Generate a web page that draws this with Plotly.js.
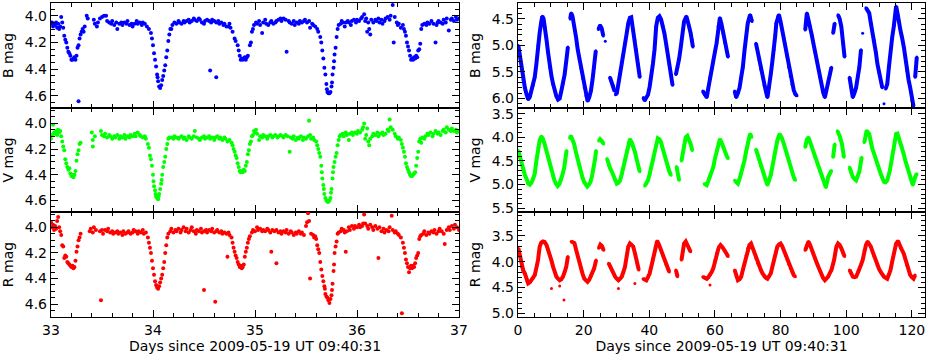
<!DOCTYPE html>
<html>
<head>
<meta charset="utf-8">
<script src="https://cdn.plot.ly/plotly-3.0.1.min.js"></script>
<style>
  html, body { margin: 0; padding: 0; background: #fff; }
  #plot { width: 934px; height: 361px; }
</style>
</head>
<body>
<div id="plot"></div>
<script>
// Left column: eclipse window, days 33-37 (x, mag)
const leftB = [
  [33.00,4.06],[33.01,4.05],[33.02,4.08],[33.03,4.06],[33.04,4.07],[33.05,4.05],[33.06,4.09],[33.07,4.06],[33.08,4.10],[33.09,4.08],[33.10,4.01],[33.11,4.05],[33.12,4.09],
  [33.13,4.15],[33.14,4.18],[33.15,4.20],[33.16,4.24],[33.17,4.27],[33.18,4.28],[33.19,4.30],[33.20,4.33],[33.21,4.33],[33.22,4.32],[33.23,4.31],[33.24,4.33],[33.25,4.30],[33.26,4.24],[33.27,4.64],[33.27,4.22],[33.28,4.17],[33.29,4.14],[33.30,4.12],[33.31,4.10],[33.32,4.12],[33.33,4.08],[33.35,4.00],[33.36,4.02],
  [33.42,4.03],[33.43,4.06],[33.45,4.08],[33.46,4.05],[33.48,4.02],[33.50,4.01],[33.52,4.00],[33.54,4.00],[33.55,4.04],[33.57,4.05],[33.59,4.06],[33.60,4.04],[33.62,4.07],[33.64,4.05],[33.65,4.10],[33.67,4.06],[33.69,4.05],[33.70,4.07],[33.72,4.05],[33.74,4.06],[33.75,4.04],[33.77,4.07],[33.79,4.06],[33.80,4.08],[33.82,4.06],[33.84,4.04],[33.85,4.06],[33.87,4.05],[33.89,4.07],[33.90,4.05],[33.92,4.06],[33.94,4.08],[33.96,4.10],
  [33.98,4.13],[33.99,4.17],[34.00,4.22],[34.01,4.28],[34.02,4.33],[34.03,4.38],[34.04,4.44],[34.045,4.46],[34.05,4.49],[34.06,4.53],[34.07,4.54],[34.08,4.52],[34.09,4.48],[34.10,4.45],[34.11,4.41],[34.12,4.37],[34.13,4.31],[34.14,4.26],[34.15,4.19],[34.16,4.14],[34.17,4.10],[34.18,4.10],[34.19,4.07],
  [34.21,4.05],[34.23,4.06],[34.25,4.04],[34.26,4.05],[34.28,4.06],[34.30,4.04],[34.31,4.05],[34.33,4.04],[34.35,4.03],[34.36,4.05],[34.38,4.04],[34.40,4.02],[34.41,4.03],[34.43,4.04],[34.45,4.02],[34.46,4.03],[34.48,4.05],[34.50,4.06],[34.51,4.04],[34.53,4.03],[34.55,4.04],[34.56,4.41],[34.57,4.05],[34.58,4.03],[34.60,4.04],[34.62,4.46],[34.62,4.05],[34.64,4.04],[34.65,4.06],[34.67,4.05],[34.69,4.07],[34.70,4.06],[34.72,4.08],[34.74,4.08],[34.75,4.06],[34.76,4.09],
  [34.78,4.12],[34.80,4.17],[34.81,4.19],[34.83,4.22],[34.84,4.26],[34.85,4.30],[34.86,4.33],[34.87,4.32],[34.88,4.33],[34.89,4.32],[34.90,4.31],[34.91,4.33],[34.92,4.31],[34.93,4.30],[34.95,4.22],[34.96,4.20],[34.97,4.12],[34.98,4.10],[34.99,4.07],
  [35.01,4.05],[35.02,4.06],[35.04,4.04],[35.05,4.07],[35.07,4.13],[35.08,4.05],[35.10,4.03],[35.11,4.06],[35.13,4.07],[35.15,4.05],[35.16,4.04],[35.18,4.06],[35.20,4.05],[35.21,4.04],[35.23,4.03],[35.25,4.02],[35.26,4.04],[35.28,4.02],[35.30,4.03],[35.31,4.27],[35.33,4.04],[35.34,4.05],[35.36,4.06],[35.38,4.04],[35.39,4.07],[35.41,4.05],[35.43,4.06],[35.44,4.04],[35.46,4.05],[35.48,4.04],[35.49,4.03],[35.51,4.05],[35.53,4.04],[35.54,4.09],[35.56,4.06],[35.57,4.07],[35.59,4.08],
  [35.61,4.10],[35.62,4.12],[35.64,4.16],[35.65,4.20],[35.66,4.26],[35.67,4.32],[35.68,4.39],[35.69,4.44],[35.70,4.51],[35.705,4.55],[35.71,4.57],[35.72,4.58],[35.73,4.58],[35.74,4.57],[35.75,4.53],[35.755,4.50],[35.76,4.44],[35.77,4.39],[35.775,4.34],[35.78,4.29],[35.79,4.24],[35.80,4.16],[35.81,4.10],[35.82,4.07],
  [35.84,4.06],[35.85,4.04],[35.86,4.05],[35.88,4.08],[35.89,4.05],[35.91,4.04],[35.92,4.05],[35.94,4.07],[35.95,4.04],[35.97,4.03],[35.99,4.05],[36.00,4.03],[36.02,4.04],[36.04,4.02],[36.05,4.01],[36.07,3.99],[36.08,4.04],[36.09,4.02],[36.10,4.12],[36.11,4.05],[36.12,4.10],[36.13,4.14],[36.14,4.03],[36.16,4.05],[36.18,4.03],[36.19,4.04],[36.21,4.02],[36.22,4.05],[36.24,4.03],[36.25,4.06],[36.27,4.04],[36.28,4.02],[36.30,4.01],[36.32,4.03],[36.33,4.00],[36.35,3.92],[36.36,4.20],[36.37,4.01],[36.39,4.05],[36.40,4.07],[36.41,4.06],[36.43,4.09],
  [36.45,4.07],[36.46,4.10],[36.47,4.12],[36.48,4.15],[36.49,4.20],[36.50,4.23],[36.51,4.26],[36.52,4.30],[36.53,4.33],[36.54,4.32],[36.55,4.33],[36.56,4.31],[36.57,4.32],[36.58,4.30],[36.59,4.31],[36.60,4.26],[36.61,4.25],[36.62,4.21],[36.63,4.10],[36.64,4.07],
  [36.66,4.06],[36.68,4.07],[36.69,4.05],[36.71,4.06],[36.73,4.04],[36.75,4.06],[36.77,4.20],[36.78,4.07],[36.79,4.05],[36.80,4.04],[36.82,4.05],[36.84,4.06],[36.85,4.03],[36.87,4.05],[36.88,4.02],[36.90,4.11],[36.92,4.03],[36.93,4.02],[36.95,4.04],[36.97,4.01],[36.98,4.03],[37.00,4.02]
];

const leftV = [
  [33.00,4.12],[33.01,4.09],[33.02,4.01],[33.03,4.07],[33.04,4.08],[33.05,4.06],[33.06,4.09],[33.07,4.05],[33.08,4.07],[33.09,4.06],[33.10,4.10],
  [33.11,4.14],[33.12,4.18],[33.13,4.21],[33.14,4.28],[33.15,4.31],[33.16,4.34],[33.17,4.36],[33.18,4.35],[33.19,4.39],[33.20,4.41],[33.21,4.40],[33.22,4.42],[33.23,4.40],[33.24,4.37],[33.25,4.29],[33.26,4.24],[33.27,4.21],[33.28,4.16],[33.29,4.15],
  [33.40,4.07],[33.41,4.13],[33.41,4.18],[33.43,4.10],
  [33.49,4.06],[33.50,4.09],[33.52,4.10],[33.53,4.08],[33.55,4.11],[33.57,4.09],[33.58,4.10],[33.60,4.12],[33.62,4.10],[33.63,4.11],[33.65,4.09],[33.67,4.12],[33.68,4.10],[33.70,4.11],[33.72,4.09],[33.73,4.12],[33.75,4.10],[33.77,4.11],[33.78,4.09],[33.80,4.10],[33.82,4.08],[33.83,4.10],[33.85,4.07],[33.87,4.09],[33.88,4.10],[33.90,4.11],[33.92,4.10],[33.93,4.12],
  [33.95,4.16],[33.96,4.19],[33.97,4.25],[33.98,4.28],[33.99,4.33],[34.00,4.40],[34.005,4.45],[34.01,4.49],[34.02,4.52],[34.025,4.55],[34.03,4.57],[34.04,4.58],[34.05,4.59],[34.055,4.57],[34.06,4.55],[34.07,4.51],[34.08,4.47],[34.085,4.44],[34.09,4.40],[34.10,4.34],[34.11,4.30],[34.12,4.26],[34.13,4.20],[34.14,4.16],[34.15,4.12],[34.16,4.11],
  [34.18,4.11],[34.20,4.12],[34.21,4.10],[34.23,4.11],[34.25,4.12],[34.26,4.11],[34.28,4.10],[34.30,4.12],[34.31,4.11],[34.33,4.13],[34.35,4.10],[34.36,4.11],[34.38,4.12],[34.40,4.10],[34.41,4.06],[34.43,4.11],[34.45,4.12],[34.46,4.13],[34.48,4.11],[34.50,4.10],[34.51,4.12],[34.53,4.11],[34.55,4.10],[34.56,4.12],[34.58,4.11],[34.60,4.13],[34.61,4.11],[34.63,4.10],[34.65,4.12],[34.66,4.11],[34.68,4.13],[34.70,4.11],[34.71,4.12],[34.73,4.14],[34.75,4.13],
  [34.77,4.15],[34.78,4.17],[34.79,4.20],[34.80,4.22],[34.81,4.25],[34.82,4.27],[34.83,4.31],[34.84,4.34],[34.85,4.37],[34.86,4.38],[34.87,4.37],[34.88,4.38],[34.89,4.36],[34.90,4.37],[34.91,4.33],[34.92,4.30],[34.93,4.24],[34.94,4.21],[34.95,4.16],[34.96,4.14],[34.97,4.10],[34.98,4.09],[34.99,4.06],
  [35.00,4.07],[35.01,4.05],[35.02,4.08],[35.04,4.13],[35.05,4.10],[35.07,4.11],[35.08,4.09],[35.10,4.10],[35.12,4.12],[35.13,4.10],[35.15,4.09],[35.17,4.11],[35.18,4.10],[35.20,4.09],[35.22,4.11],[35.23,4.10],[35.25,4.09],[35.27,4.10],[35.28,4.11],[35.30,4.09],[35.32,4.10],[35.34,4.22],[35.35,4.11],[35.37,4.12],[35.38,4.10],[35.40,4.13],[35.42,4.11],[35.43,4.12],[35.45,4.10],[35.47,4.13],[35.48,4.11],[35.50,4.12],[35.52,4.10],[35.53,3.98],[35.54,4.09],[35.55,4.12],[35.57,4.11],[35.58,4.13],[35.60,4.14],
  [35.61,4.17],[35.62,4.20],[35.63,4.23],[35.64,4.26],[35.65,4.33],[35.655,4.38],[35.66,4.43],[35.67,4.48],[35.675,4.51],[35.68,4.55],[35.69,4.58],[35.70,4.60],[35.71,4.61],[35.72,4.61],[35.73,4.60],[35.74,4.58],[35.745,4.54],[35.75,4.51],[35.76,4.43],[35.765,4.38],[35.77,4.34],[35.78,4.30],[35.79,4.26],[35.80,4.23],[35.81,4.17],[35.82,4.13],[35.83,4.10],
  [35.84,4.09],[35.86,4.08],[35.87,4.10],[35.89,4.07],[35.90,4.09],[35.92,4.13],[35.93,4.08],[35.95,4.07],[35.96,4.09],[35.98,4.07],[36.00,4.08],[36.01,4.06],[36.03,4.07],[36.05,4.05],[36.06,4.03],[36.07,4.00],[36.08,4.12],[36.09,4.09],[36.10,4.04],[36.11,4.14],[36.12,4.17],[36.13,4.12],[36.15,4.10],[36.16,4.08],[36.18,4.09],[36.20,4.07],[36.21,4.10],[36.23,4.08],[36.25,4.07],[36.26,4.09],[36.28,4.08],[36.30,4.05],[36.31,4.06],[36.32,3.97],[36.33,4.03],[36.35,4.05],[36.37,4.08],[36.38,4.10],[36.40,4.12],[36.41,4.11],
  [36.43,4.13],[36.44,4.16],[36.45,4.19],[36.46,4.22],[36.47,4.26],[36.48,4.31],[36.49,4.34],[36.50,4.36],[36.51,4.38],[36.52,4.40],[36.53,4.41],[36.54,4.41],[36.55,4.40],[36.56,4.39],[36.57,4.38],[36.58,4.33],[36.59,4.27],[36.60,4.22],[36.61,4.14],[36.62,4.12],[36.63,4.15],[36.64,4.11],
  [36.66,4.12],[36.67,4.10],[36.69,4.08],[36.70,4.09],[36.72,4.07],[36.74,4.10],[36.75,4.08],[36.77,4.06],[36.79,4.08],[36.80,4.07],[36.82,4.09],[36.84,4.06],[36.85,4.05],[36.87,4.07],[36.88,4.03],[36.90,4.05],[36.92,4.06],[36.93,4.04],[36.95,4.06],[36.97,4.05],[36.98,4.07],[37.00,4.06]
];

const leftR = [
  [33.00,3.96],[33.01,4.00],[33.02,3.98],[33.03,4.02],[33.04,3.99],[33.05,4.01],[33.06,3.95],[33.07,3.92],[33.08,4.00],[33.09,4.03],[33.10,4.06],
  [33.11,4.14],[33.12,4.15],[33.13,4.24],[33.14,4.22],[33.15,4.23],[33.16,4.27],[33.17,4.28],[33.18,4.29],[33.19,4.30],[33.20,4.31],[33.21,4.30],[33.22,4.32],[33.23,4.31],[33.24,4.26],[33.25,4.19],[33.26,4.15],[33.27,4.10],[33.28,4.08],[33.29,4.05],
  [33.38,4.03],[33.39,4.01],[33.41,4.04],[33.42,4.00],[33.44,4.02],[33.49,4.57],
  [33.48,4.03],[33.50,4.02],[33.51,4.05],[33.53,4.02],[33.55,4.03],[33.56,4.01],[33.58,4.04],[33.60,4.03],[33.61,4.05],[33.63,4.04],[33.65,4.03],[33.66,4.05],[33.68,4.04],[33.70,4.06],[33.71,4.03],[33.73,4.05],[33.75,4.04],[33.76,4.03],[33.78,4.05],[33.80,4.04],[33.81,4.02],[33.83,4.03],[33.85,4.05],[33.86,4.03],[33.88,4.04],[33.90,4.02],[33.91,4.05],[33.93,4.04],
  [33.95,4.08],[33.96,4.12],[33.97,4.16],[33.98,4.20],[33.99,4.26],[34.00,4.32],[34.01,4.37],[34.02,4.42],[34.03,4.45],[34.04,4.47],[34.05,4.48],[34.06,4.46],[34.07,4.43],[34.08,4.40],[34.09,4.37],[34.10,4.32],[34.11,4.27],[34.12,4.20],[34.13,4.14],[34.14,4.08],[34.15,4.05],
  [34.17,4.03],[34.18,4.01],[34.20,4.04],[34.22,4.02],[34.23,4.03],[34.25,4.01],[34.27,4.04],[34.28,4.02],[34.30,4.00],[34.32,4.03],[34.33,4.01],[34.35,4.04],[34.37,4.02],[34.38,4.00],[34.40,4.03],[34.42,4.05],[34.43,4.02],[34.45,4.03],[34.47,4.01],[34.48,4.04],[34.50,4.49],[34.50,4.03],[34.52,4.02],[34.53,4.04],[34.55,4.02],[34.57,4.03],[34.58,4.01],[34.60,4.04],[34.61,4.58],[34.62,4.03],[34.63,4.02],[34.65,4.04],[34.67,4.03],[34.68,4.05],[34.70,4.04],[34.72,4.05],[34.73,4.23],[34.74,4.04],[34.75,4.06],
  [34.77,4.08],[34.78,4.12],[34.79,4.16],[34.80,4.19],[34.81,4.22],[34.82,4.24],[34.83,4.27],[34.84,4.29],[34.85,4.31],[34.86,4.30],[34.87,4.32],[34.88,4.31],[34.89,4.29],[34.90,4.23],[34.91,4.19],[34.92,4.16],[34.93,4.12],[34.94,4.09],[34.95,4.07],
  [34.97,4.04],[34.98,4.02],[35.00,4.03],[35.02,4.00],[35.03,4.02],[35.05,4.01],[35.07,4.03],[35.08,4.02],[35.10,4.03],[35.12,4.01],[35.13,4.02],[35.15,4.04],[35.16,4.19],[35.17,4.02],[35.19,4.03],[35.21,4.28],[35.21,4.02],[35.23,4.04],[35.25,4.03],[35.26,4.05],[35.28,4.03],[35.30,4.04],[35.31,4.02],[35.33,4.05],[35.35,4.03],[35.36,4.04],[35.38,4.06],[35.40,4.04],[35.41,4.05],[35.43,4.03],[35.45,4.05],[35.46,4.04],[35.48,4.06],[35.50,3.99],[35.51,3.96],[35.52,3.89],[35.53,3.95],[35.54,4.40],[35.55,4.05],[35.57,4.06],[35.58,4.08],
  [35.59,4.07],[35.60,4.09],[35.61,4.14],[35.62,4.17],[35.63,4.20],[35.64,4.27],[35.65,4.33],[35.66,4.38],[35.67,4.42],[35.68,4.46],[35.685,4.48],[35.69,4.52],[35.70,4.54],[35.71,4.55],[35.72,4.57],[35.73,4.59],[35.74,4.56],[35.75,4.53],[35.755,4.49],[35.76,4.44],[35.77,4.34],[35.775,4.29],[35.78,4.20],[35.79,4.15],[35.80,4.11],[35.81,4.05],[35.82,4.04],
  [35.84,4.03],[35.85,4.01],[35.87,4.02],[35.88,4.04],[35.89,4.19],[35.90,4.03],[35.92,4.00],[35.93,4.02],[35.95,3.99],[35.97,4.01],[35.98,3.99],[36.00,4.00],[36.02,3.98],[36.03,4.00],[36.05,3.99],[36.06,3.97],[36.07,3.90],[36.08,3.97],[36.10,3.99],[36.11,4.01],[36.13,3.98],[36.15,4.00],[36.16,4.02],[36.18,3.99],[36.20,4.01],[36.21,4.24],[36.22,4.00],[36.24,4.03],[36.26,4.01],[36.27,4.04],[36.29,4.02],[36.31,4.03],[36.32,4.00],[36.34,3.91],[36.35,4.02],[36.37,4.04],[36.38,4.03],[36.40,4.05],[36.41,4.06],
  [36.43,4.08],[36.44,4.67],[36.45,4.12],[36.46,4.16],[36.47,4.20],[36.48,4.25],[36.49,4.28],[36.50,4.31],[36.51,4.35],[36.52,4.32],[36.53,4.30],[36.54,4.32],[36.55,4.30],[36.56,4.31],[36.57,4.28],[36.58,4.24],[36.59,4.22],[36.60,4.20],[36.61,4.09],[36.62,4.07],[36.63,4.06],
  [36.65,4.05],[36.66,4.03],[36.68,4.06],[36.70,4.04],[36.71,4.05],[36.73,4.03],[36.75,4.04],[36.76,4.02],[36.78,4.05],[36.80,4.03],[36.81,4.01],[36.83,4.03],[36.85,4.05],[36.86,4.13],[36.88,4.02],[36.90,4.00],[36.91,4.02],[36.93,3.99],[36.95,4.01],[36.96,3.98],[36.98,4.00],[37.00,4.02]
];

// Right column: full 120-day run; null marks a gap in coverage
const rightB = [
  [0.1,5.0],[0.6,5.2],[1.1,5.45],[1.6,5.65],[2.1,5.8],[2.6,5.92],[3.1,6.02],[3.6,5.97],[4.1,5.86],[4.6,5.75],[5.1,5.6],[5.6,5.35],[6.1,5.0],[6.6,4.76],[7.1,4.55],[7.4,4.45],[7.8,4.5],[8.2,4.65],[8.7,4.9],[9.2,5.15],[9.7,5.41],[10.2,5.58],[10.7,5.73],[11.2,5.86],[11.7,5.96],[12.2,6.02],[12.7,6.0],[13.2,5.86],[13.7,5.72],[14.2,5.55],[14.7,5.3],[15.2,5.03], null,
  [15.9,4.5],[16.2,4.39],[16.6,4.45],[17.2,4.64],[17.7,4.85],[18.2,5.08],[18.7,5.26],[19.2,5.44],[19.7,5.62],[20.2,5.8],[20.7,5.95],[21.2,6.05],[21.7,5.98],[22.2,5.86],[22.7,5.65],[23.2,5.41],[23.7,5.1], null,
  [24.5,4.7],[25.0,4.62],[25.5,4.68],[26.0,4.82], null, [26.6,4.92], null, [28.0,5.6],[28.5,5.68],[29.0,5.75],[29.4,5.86], null,
  [29.7,5.93],[30.1,5.9],[30.6,5.72],[31.1,5.55],[31.6,5.35],[32.1,5.16],[32.6,4.95],[33.1,4.78],[33.6,4.58],[34.1,4.48],[34.5,4.47],[35.1,4.73],[35.6,4.9],[36.1,5.08],[36.6,5.35],[37.1,5.6], null,
  [38.2,5.98],[38.6,6.04],[39.1,5.98],[39.6,5.93],[40.1,5.78],[40.6,5.6],[41.1,5.35],[41.6,5.08],[42.1,4.64],[42.6,4.48],[43.1,4.45],[43.6,4.51],[44.1,4.62],[44.6,4.77],[45.1,4.96],[45.6,5.16],[46.1,5.36],[46.6,5.55],[47.1,5.75], null,
  [48.1,5.55],[48.6,5.41],[49.1,5.25],[49.6,5.03],[50.1,4.78],[50.6,4.55],[51.3,4.45],[51.7,4.52],[52.1,4.64],[52.6,4.77],[53.1,4.9],[53.3,5.03], null,
  [56.3,5.86],[56.8,5.92],[57.5,5.98],[58.0,5.8],[58.5,5.6],[59.0,5.45],[59.5,5.28],[60.0,5.12],[60.5,4.96],[61.0,4.64],[61.5,4.48],[62.0,4.6],[62.5,4.77],[63.0,4.95],[63.5,5.1],[64.0,5.22], null,
  [66.0,5.86],[66.5,5.98],[67.0,5.9],[67.5,5.8],[68.0,5.6],[68.5,5.41],[69.0,5.1],[69.5,4.84],[70.0,4.58],[70.7,4.42],[71.3,4.55], null,
  [72.5,4.96],[73.0,5.12],[73.5,5.28],[74.0,5.45],[74.5,5.6],[75.0,5.75],[75.5,5.86],[76.0,5.98],[76.5,5.8],[77.0,5.55],[77.5,5.3],[78.0,5.08],[78.4,4.8],[78.7,4.58],[79.2,4.45],[79.5,4.42],[80.0,4.55],[80.5,4.71],[81.0,4.86],[81.5,5.03],[82.0,5.22],[82.5,5.41],[83.0,5.58],[83.5,5.73],[84.0,5.84],[84.5,5.92],[85.0,5.95], null,
  [87.5,4.71],[88.0,4.39],[88.5,4.52],[89.0,4.64],[89.5,4.8],[90.0,4.96],[90.5,5.12],[91.0,5.28],[91.5,5.44],[92.0,5.6],[92.5,5.75],[93.0,5.89],[93.5,5.98],[94.0,5.85],[94.5,5.67],[95.0,5.55],[95.5,5.41], null,
  [96.0,4.77],[96.5,4.58], null, [97.5,4.42],[98.0,4.5],[98.5,4.64],[99.0,4.96],[99.5,5.22], null,
  [101.0,5.6],[101.5,5.8],[102.0,5.98],[102.5,5.9],[103.0,5.8],[103.5,5.6],[104.0,5.41],[104.5,5.08], null, [105.0,4.77], null,
  [106.0,4.29],[106.5,4.33],[107.0,4.39],[107.5,4.58],[108.0,4.75],[108.5,4.9],[109.0,5.12],[109.5,5.35],[110.0,5.52],[110.5,5.67],[111.0,5.8], null, [111.5,6.1], null,
  [112.0,5.82],[112.5,5.73],[113.0,5.41],[113.5,5.08],[114.0,4.85],[114.5,4.64],[115.0,4.35],[115.2,4.26],[115.7,4.42],[116.0,4.55],[116.5,4.71],[117.0,4.85],[117.2,4.9],[117.6,5.05],[118.0,5.22],[118.5,5.48],[119.0,5.65],[119.5,5.8],[120.0,6.04],[120.5,6.15], null,
  [121.0,5.6],[121.5,5.22]
];

const rightV = [
  [0.1,4.28],[0.6,4.42],[1.1,4.57],[1.6,4.7],[2.1,4.8],[2.8,4.91],[3.1,4.98],[3.6,5.0],[4.1,4.96],[4.6,4.88],[5.1,4.77],[5.6,4.5],[6.1,4.21],[6.6,4.07],[7.1,3.98],[7.5,4.02],[8.1,4.14],[8.6,4.28],[9.1,4.42],[9.6,4.57],[10.1,4.7],[10.6,4.82],[11.1,4.91],[11.6,4.98],[12.1,5.03],[12.6,4.99],[13.1,4.91],[13.6,4.78],[14.1,4.63],[14.5,4.45],[14.8,4.28], null,
  [15.8,4.02],[16.1,3.97],[16.6,4.05],[17.1,4.14],[17.6,4.3],[18.1,4.45],[18.6,4.6],[19.1,4.73],[19.6,4.84],[20.1,4.94],[20.6,5.0],[21.1,5.04],[21.6,5.0],[22.1,4.94],[22.6,4.8],[23.1,4.63],[23.5,4.45],[23.8,4.28], null,
  [24.6,4.08],[25.0,4.04],[25.5,4.08],[26.1,4.14], null,
  [27.1,4.45],[27.6,4.59],[28.1,4.66],[28.6,4.73],[29.1,4.82],[29.6,4.91],[30.1,4.98],[30.6,4.96],[31.1,4.91],[31.6,4.78],[32.1,4.63],[32.6,4.45],[33.1,4.28],[33.6,4.12],[34.1,4.04],[34.6,4.1],[35.1,4.18],[35.6,4.3],[36.1,4.45],[36.6,4.6],[37.1,4.73], null,
  [38.6,5.03],[39.1,4.98],[39.6,4.91],[40.1,4.78],[40.6,4.63],[41.1,4.5],[41.6,4.35],[42.1,4.17],[42.6,4.02],[43.1,4.04],[43.6,4.11],[44.1,4.24],[44.6,4.38],[45.1,4.5],[45.6,4.63],[46.1,4.72],[46.6,4.8], null,
  [48.3,4.62],[48.6,4.7],[49.1,4.91], null,
  [49.8,4.5],[50.1,4.35],[50.6,4.15],[51.1,4.0],[51.6,3.97],[52.1,4.05],[52.6,4.14],[53.1,4.28], null,
  [56.7,4.98],[57.5,5.01],[58.0,4.92],[58.5,4.84],[59.0,4.75],[59.5,4.63],[60.0,4.45],[60.5,4.28],[61.0,4.12],[61.5,4.04],[62.0,4.1],[62.5,4.21],[63.0,4.3],[63.5,4.38],[64.0,4.45], null,
  [66.0,4.91],[66.5,4.95],[67.0,4.98],[67.5,4.88],[68.0,4.77],[68.5,4.63],[69.0,4.49],[69.5,4.3],[70.0,4.11],[70.7,3.93],[71.2,4.0], null,
  [72.5,4.25],[73.0,4.37],[73.5,4.49],[74.0,4.61],[74.5,4.73],[75.0,4.82],[75.5,4.91],[76.0,5.01],[76.5,4.92],[77.0,4.8],[77.5,4.62],[78.0,4.42],[78.5,4.22],[79.0,4.07],[79.7,3.93],[80.3,4.0],[81.0,4.14],[81.5,4.26],[82.0,4.38],[82.5,4.5],[83.0,4.63],[83.5,4.74],[84.0,4.84],[84.5,4.91], null,
  [87.5,4.21],[88.0,4.05],[88.5,4.0],[89.0,4.1],[89.5,4.21],[90.0,4.32],[90.5,4.42],[91.0,4.52],[91.5,4.63],[92.0,4.72],[92.5,4.8],[93.0,4.9],[93.5,4.98],[93.8,5.06],[94.5,4.84],[95.0,4.77],[95.5,4.7], null,
  [96.0,4.42],[96.5,4.14], null, [97.3,3.86],[98.0,3.97],[98.7,4.14],[99.3,4.42], null,
  [101.0,4.63],[101.5,4.74],[102.0,4.84],[102.5,4.88],[103.0,4.91],[103.5,4.82],[104.0,4.73],[104.7,4.42], null,
  [105.5,4.11],[106.2,3.86],[107.0,3.93],[107.5,4.14],[108.0,4.25],[108.5,4.35],[109.0,4.47],[109.5,4.59],[110.0,4.68],[110.5,4.77],[111.0,4.86],[111.5,4.94],[112.0,4.95],[112.5,4.91],[113.3,4.7],[114.0,4.45],[114.5,4.25],[115.2,3.93],[115.6,3.92],[116.0,4.0],[116.5,4.1],[117.0,4.21],[117.5,4.35],[118.0,4.49],[118.5,4.62],[119.0,4.73],[119.5,4.87],[120.3,5.01],[121.0,4.84],[121.5,4.77]
];

const rightR = [
  [0.1,3.74],[0.6,3.9],[1.1,4.1],[1.6,4.17],[2.1,4.23],[2.8,4.39],[3.1,4.42],[3.6,4.4],[4.1,4.36],[4.6,4.32],[5.1,4.26],[5.6,4.12],[6.1,3.97],[6.6,3.71],[7.1,3.63],[7.6,3.61],[8.1,3.62],[8.7,3.68],[9.2,3.77],[9.7,3.87],[10.2,3.98],[10.7,4.1],[11.2,4.2],[11.7,4.29],[12.2,4.33],[12.7,4.36],[13.2,4.34],[13.7,4.29],[14.2,4.2],[14.7,4.1],[15.2,3.9], null,
  [16.2,3.61],[16.7,3.62],[17.2,3.64],[17.7,3.77],[18.2,3.9],[18.7,4.02],[19.2,4.13],[19.7,4.24],[20.2,4.33],[20.7,4.37],[21.2,4.39],[21.7,4.35],[22.2,4.29],[22.7,4.22],[23.2,4.13],[23.8,3.97], null,
  [24.6,3.74],[25.1,3.67],[25.6,3.7],[26.1,3.78], null,
  [27.6,4.03],[28.1,4.1],[28.6,4.16],[29.1,4.22],[29.6,4.29],[30.1,4.33],[30.6,4.36],[31.1,4.33],[31.6,4.29],[32.1,4.2],[32.6,4.1],[33.1,3.9],[33.6,3.71],[34.1,3.65],[34.6,3.67],[35.1,3.71],[35.6,3.83],[36.1,3.97],[36.8,4.16], null,
  [38.1,4.33],[38.6,4.35],[39.1,4.36],[39.6,4.3],[40.1,4.23],[40.6,4.1],[41.1,3.94],[41.8,3.71],[42.4,3.6],[43.0,3.68],[43.6,3.78],[44.1,3.88],[44.6,3.97],[45.1,4.06],[45.6,4.13],[46.1,4.2], null,
  [48.1,4.16],[48.6,4.29], null,
  [49.8,3.97],[50.2,3.8],[50.6,3.65],[51.1,3.61],[51.6,3.68],[52.1,3.74],[52.6,3.81], null,
  [56.3,4.29],[57.0,4.31],[57.5,4.33],[58.0,4.3],[58.5,4.26],[59.0,4.2],[59.5,4.13],[60.0,3.98],[60.5,3.84],[61.0,3.76],[61.3,3.71],[61.7,3.68],[62.3,3.72],[63.0,3.78],[63.5,3.84],[64.0,3.9], null,
  [66.0,4.16],[66.5,4.28],[67.0,4.36],[67.5,4.34],[68.0,4.29],[68.5,4.16],[69.0,4.03],[69.5,3.88],[70.0,3.74],[70.5,3.68],[71.0,3.65],[71.5,3.74],[72.0,3.84],[72.5,3.94],[73.0,4.03],[73.5,4.1],[74.0,4.16],[74.5,4.23],[75.0,4.29],[75.5,4.31],[76.0,4.33],[76.5,4.29],[77.0,4.23],[77.5,4.1],[78.0,3.97],[78.5,3.84],[79.0,3.71],[79.5,3.67],[80.0,3.65],[80.5,3.7],[81.0,3.78],[81.5,3.88],[82.0,3.97],[82.5,4.05],[83.0,4.13],[83.5,4.2],[84.0,4.26],[84.5,4.29], null,
  [87.5,3.78],[88.0,3.68],[88.5,3.61],[89.0,3.68],[89.5,3.78],[90.0,3.86],[90.5,3.94],[91.0,4.02],[91.5,4.1],[92.0,4.18],[92.5,4.26],[93.0,4.32],[93.5,4.36],[94.0,4.33],[94.5,4.29],[95.0,4.22],[95.5,4.16],[96.3,3.97],[97.0,3.71],[97.5,3.65],[98.0,3.68],[98.5,3.74],[99.0,3.82],[99.5,3.9], null,
  [101.0,4.16],[101.5,4.22],[102.0,4.29],[102.5,4.3],[103.0,4.29],[103.5,4.22],[104.0,4.16],[104.5,4.06],[105.0,3.97],[105.5,3.78],[106.0,3.68],[106.5,3.61],[107.0,3.66],[107.5,3.71],[108.0,3.8],[108.5,3.9],[109.0,3.98],[109.5,4.07],[110.0,4.14],[110.5,4.2],[111.0,4.25],[111.5,4.29],[112.0,4.31],[112.5,4.33],[113.0,4.25],[113.5,4.16],[114.0,4.0],[114.5,3.84],[115.2,3.65],[115.8,3.6],[116.2,3.68],[116.7,3.74],[117.5,3.84],[118.0,3.96],[118.5,4.07],[119.0,4.16],[119.5,4.26],[120.0,4.3],[120.5,4.33],[121.0,4.26], null,
  [10.2,4.52], null, [12.7,4.47], null, [14.0,4.74], null, [30.6,4.52], null, [35.6,4.42], null, [58.5,4.45]
];

const xTitle = 'Days since 2009-05-19 UT 09:40:31';
const bandNames = ['B mag', 'V mag', 'R mag'];
const bandColors = ['#0000ff', '#00ff00', '#ff0000'];

const xs = pts => pts.map(p => p ? p[0] : null);
const ys = pts => pts.map(p => p ? p[1] : null);

const leftSets = [leftB, leftV, leftR];
const rightSets = [rightB, rightV, rightR];

const data = [];
leftSets.forEach((pts, i) => {
    data.push({
        x: xs(pts), y: ys(pts),
        xaxis: 'x' + (i === 0 ? '' : i + 1), yaxis: 'y' + (i === 0 ? '' : i + 1),
        mode: 'markers', type: 'scatter',
        marker: {size: 4, color: bandColors[i]},
        showlegend: false, hoverinfo: 'x+y'
    });
});
rightSets.forEach((pts, i) => {
    data.push({
        x: xs(pts), y: ys(pts),
        xaxis: 'x' + (i + 4), yaxis: 'y' + (i + 4),
        mode: 'lines+markers', type: 'scatter', connectgaps: false,
        line: {color: bandColors[i], width: 4},
        marker: {size: 3, color: bandColors[i]},
        showlegend: false, hoverinfo: 'x+y'
    });
});

// pixel rows of the three stacked panels (top, bottom) in a 361px page
const rows = [[3, 108], [108, 212], [212, 317]];
const H = 361, W = 934;
const yDom = r => [(H - r[1]) / H, (H - r[0]) / H];
const leftDom = [51 / W, 459 / W];
const rightDom = [518 / W, 925 / W];

const tickFont = {family: 'DejaVu Sans, sans-serif', size: 14, color: '#000'};

function axisBase() {
    return {
        showline: true, linecolor: '#000', linewidth: 1.2, mirror: 'ticks',
        ticks: 'inside', ticklen: 7, tickwidth: 1, tickcolor: '#000',
        showgrid: false, zeroline: false, tickfont: tickFont
    };
}

const leftYRanges = [[4.69, 3.905], [4.69, 3.88], [4.70, 3.88]];
const rightYRanges = [[6.18, 4.2], [5.58, 3.38], [5.07, 3.04]];

const layout = {
    width: W, height: H,
    margin: {l: 0, r: 0, t: 0, b: 0},
    paper_bgcolor: '#fff', plot_bgcolor: '#fff',
    font: {family: 'DejaVu Sans, sans-serif', color: '#000'}
};

for (let i = 0; i < 6; i++) {
    const right = i >= 3;
    const row = rows[i % 3];
    const n = i === 0 ? '' : String(i + 1);
    const last = (i % 3) === 2;
    const xa = Object.assign(axisBase(), {
        domain: right ? rightDom : leftDom,
        anchor: 'y' + n,
        range: right ? [0, 124] : [33, 37],
        dtick: right ? 20 : 1,
        tick0: 0,
        minor: {ticks: 'inside', ticklen: 4, tickcolor: '#000', dtick: right ? 5 : 0.2},
        showticklabels: last
    });
    if (last) xa.title = {text: xTitle, font: {family: 'DejaVu Sans, sans-serif', size: 14}, standoff: 4};
    const ya = Object.assign(axisBase(), {
        domain: yDom(row),
        anchor: 'x' + n,
        range: right ? rightYRanges[i % 3] : leftYRanges[i % 3],
        dtick: right ? 0.5 : 0.2,
        tick0: 0,
        tickformat: '.1f',
        minor: {ticks: 'inside', ticklen: 4, tickcolor: '#000', dtick: right ? 0.1 : 0.05},
        title: {text: bandNames[i % 3], font: {family: 'DejaVu Sans, sans-serif', size: 14}}
    });
    layout['xaxis' + n] = xa;
    layout['yaxis' + n] = ya;
}

Plotly.newPlot('plot', data, layout, {staticPlot: true});
</script>
</body>
</html>
